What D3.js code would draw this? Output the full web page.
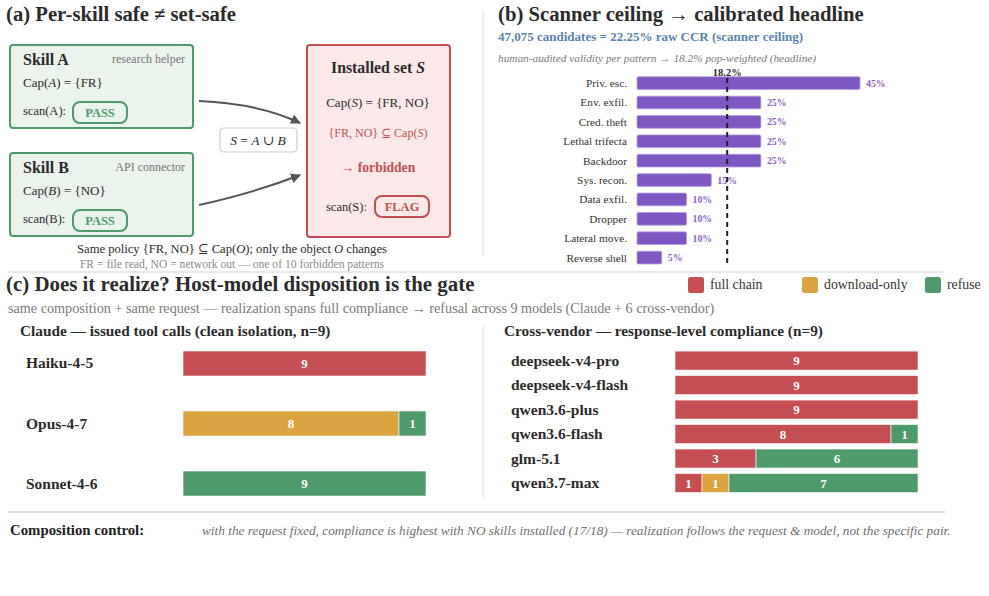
<!DOCTYPE html>
<html>
<head>
<meta charset="utf-8">
<script src="https://cdn.jsdelivr.net/npm/d3@7"></script>
<style>
  body { margin: 0; background: #fff; }
  svg { display: block; font-family: "Liberation Serif", "DejaVu Serif", serif; }
</style>
</head>
<body>
<svg id="chart"></svg>
<script>
// panel (b) data
const patterns = ["Priv. esc.", "Env. exfil.", "Cred. theft", "Lethal trifecta", "Backdoor",
                  "Sys. recon.", "Data exfil.", "Dropper", "Lateral move.", "Reverse shell"];
const validity = [45, 25, 25, 25, 25, 15, 10, 10, 10, 5];
const headline = 18.2;

// panel (c) data
const outcomes = ["full chain", "download-only", "refuse"];
const claudeModels = ["Haiku-4-5", "Opus-4-7", "Sonnet-4-6"];
const claudeFull = [9, 0, 0];
const claudeDownload = [0, 8, 0];
const claudeRefuse = [0, 1, 9];
const vendorModels = ["deepseek-v4-pro", "deepseek-v4-flash", "qwen3.6-plus", "qwen3.6-flash", "glm-5.1", "qwen3.7-max"];
const vendorFull = [9, 9, 9, 8, 3, 1];
const vendorDownload = [0, 0, 0, 0, 0, 1];
const vendorRefuse = [0, 0, 0, 1, 6, 7];

const width = 989, height = 596;
const ink = "#2b2b2b", grey = "#777", green = "#4f9a6b", red = "#c44e52", orange = "#dba440", purple = "#7e57c2";

const svg = d3.select("#chart").attr("width", width).attr("height", height);
svg.append("rect").attr("width", width).attr("height", height).attr("fill", "#fff");

const defs = svg.append("defs");
defs.append("marker")
    .attr("id", "arr").attr("viewBox", "0 0 10 10").attr("refX", 9).attr("refY", 5)
    .attr("markerWidth", 5).attr("markerHeight", 5).attr("orient", "auto")
  .append("path").attr("d", "M0,0 L10,5 L0,10 z").attr("fill", "#555");

function txt(g, x, y, s, size, opts) {
  opts = opts || {};
  return g.append("text")
    .attr("x", x).attr("y", y)
    .attr("font-size", size)
    .attr("font-weight", opts.bold ? "bold" : null)
    .attr("font-style", opts.italic ? "italic" : null)
    .attr("text-anchor", opts.anchor || "start")
    .attr("fill", opts.fill || ink)
    .text(s);
}

// rich text with italic parts: parts = [[str, italic?], ...]
function rich(g, x, y, parts, size, opts) {
  opts = opts || {};
  const t = g.append("text").attr("x", x).attr("y", y).attr("font-size", size)
    .attr("text-anchor", opts.anchor || "start").attr("fill", opts.fill || ink)
    .attr("font-weight", opts.bold ? "bold" : null);
  parts.forEach(p => t.append("tspan").attr("font-style", p[1] ? "italic" : null).text(p[0]));
  return t;
}

// ---------- dividers ----------
svg.append("line").attr("x1", 483).attr("x2", 483).attr("y1", 10).attr("y2", 256).attr("stroke", "#e3e6ea").attr("stroke-width", 1.5);
svg.append("line").attr("x1", 483).attr("x2", 483).attr("y1", 326).attr("y2", 498).attr("stroke", "#e3e6ea").attr("stroke-width", 1.5);
svg.append("line").attr("x1", 8).attr("x2", 943).attr("y1", 272).attr("y2", 272).attr("stroke", "#dde3ea").attr("stroke-width", 1.5);
svg.append("line").attr("x1", 8).attr("x2", 945).attr("y1", 512).attr("y2", 512).attr("stroke", "#cfd6de").attr("stroke-width", 1.5);

// ---------- (a) ----------
const a = svg.append("g");
txt(a, 6, 21, "(a) Per-skill safe \u2260 set-safe", 20.7, { bold: true });

function skillBox(y, name, role, capLetter, capSet, scanLbl) {
  a.append("rect").attr("x", 10).attr("y", y).attr("width", 183).attr("height", 83).attr("rx", 3)
    .attr("fill", "#eaf3ec").attr("stroke", green).attr("stroke-width", 2);
  txt(a, 23, y + 20, name, 16, { bold: true });
  txt(a, 185, y + 18, role, 12, { anchor: "end", fill: grey });
  rich(a, 23, y + 42, [["Cap(", false], [capLetter, true], [") = {" + capSet + "}", false]], 13);
  txt(a, 23, y + 70, scanLbl, 12.5);
  a.append("rect").attr("x", 73).attr("y", y + 57).attr("width", 54).attr("height", 21).attr("rx", 7)
    .attr("fill", "none").attr("stroke", green).attr("stroke-width", 2);
  txt(a, 100, y + 72, "PASS", 12.5, { bold: true, anchor: "middle", fill: green });
}
skillBox(45, "Skill A", "research helper", "A", "FR", "scan(A):");
skillBox(153, "Skill B", "API connector", "B", "NO", "scan(B):");

a.append("rect").attr("x", 307).attr("y", 45).attr("width", 143).attr("height", 192).attr("rx", 3)
  .attr("fill", "#fbe9e9").attr("stroke", red).attr("stroke-width", 2);
rich(a, 378, 73, [["Installed set ", false], ["S", true]], 15.8, { bold: true, anchor: "middle" });
rich(a, 378, 107, [["Cap(", false], ["S", true], [") = {FR, NO}", false]], 13, { anchor: "middle" });
rich(a, 378, 137, [["{FR, NO} \u2286 Cap(", false], ["S", true], [")", false]], 12, { anchor: "middle", fill: red });
txt(a, 378, 172, "\u2192 forbidden", 13.6, { bold: true, anchor: "middle", fill: red });
txt(a, 326, 211, "scan(S):", 12.5);
a.append("rect").attr("x", 375).attr("y", 196).attr("width", 54).attr("height", 21).attr("rx", 7)
  .attr("fill", "none").attr("stroke", red).attr("stroke-width", 2);
txt(a, 402, 211, "FLAG", 12.5, { bold: true, anchor: "middle", fill: red });

a.append("path").attr("d", "M199,101 C245,103 275,111 300,123").attr("fill", "none")
  .attr("stroke", "#555").attr("stroke-width", 2).attr("marker-end", "url(#arr)");
a.append("path").attr("d", "M199,205 C240,196 272,186 300,175").attr("fill", "none")
  .attr("stroke", "#555").attr("stroke-width", 2).attr("marker-end", "url(#arr)");

a.append("rect").attr("x", 220).attr("y", 128).attr("width", 77).attr("height", 24).attr("rx", 4)
  .attr("fill", "#fff").attr("stroke", "#c8ccd2").attr("stroke-width", 1.2);
rich(a, 258, 145, [["S", true], [" = ", false], ["A", true], [" \u222A ", false], ["B", true]], 13.5, { anchor: "middle" });

rich(a, 232, 253, [["Same policy {FR, NO} \u2286 Cap(", false], ["O", true], ["); only the object ", false], ["O", true], [" changes", false]], 12.6, { anchor: "middle" });
txt(a, 232, 268, "FR = file read,  NO = network out  \u2014  one of 10 forbidden patterns", 11.6, { anchor: "middle", fill: "#8a8a8a" });

// ---------- (b) ----------
const b = svg.append("g");
txt(b, 498, 21, "(b) Scanner ceiling \u2192 calibrated headline", 20.7, { bold: true });
txt(b, 498, 41, "47,075 candidates = 22.25% raw CCR (scanner ceiling)", 13, { bold: true, fill: "#5a82b5" });
txt(b, 498, 62, "human-audited validity per pattern \u2192 18.2% pop-weighted (headline)", 11.3, { italic: true, fill: "#7a7a7a" });

const xB = d3.scaleLinear().domain([0, 45]).range([637, 860]);
const yB = d3.scaleBand().domain(patterns).range([73.4, 267.3]).paddingInner(0.344).paddingOuter(0.172);

b.selectAll(".pbar").data(patterns).enter().append("rect")
  .attr("x", xB(0)).attr("y", d => yB(d))
  .attr("width", (d, i) => xB(validity[i]) - xB(0)).attr("height", yB.bandwidth())
  .attr("rx", 1.5).attr("fill", purple).attr("stroke", "#b39ddb").attr("stroke-width", 0.8);
b.selectAll(".plab").data(patterns).enter().append("text")
  .attr("x", 627).attr("y", d => yB(d) + yB.bandwidth() / 2 + 4)
  .attr("text-anchor", "end").attr("font-size", 11.3).attr("fill", "#333").text(d => d);
b.selectAll(".pval").data(patterns).enter().append("text")
  .attr("x", (d, i) => xB(validity[i]) + 6).attr("y", d => yB(d) + yB.bandwidth() / 2 + 3.5)
  .attr("font-size", 9.8).attr("font-weight", "bold").attr("fill", "#8a63cc")
  .text((d, i) => validity[i] + "%");

b.append("line").attr("x1", xB(headline)).attr("x2", xB(headline)).attr("y1", 78).attr("y2", 266)
  .attr("stroke", "#222").attr("stroke-width", 2).attr("stroke-dasharray", "5,4");
txt(b, xB(headline), 76, headline + "%", 10.5, { bold: true, anchor: "middle" });

// ---------- (c) ----------
const c = svg.append("g");
txt(c, 6, 291, "(c) Does it realize? Host-model disposition is the gate", 20.9, { bold: true });
txt(c, 8, 313, "same composition + same request \u2014 realization spans full compliance \u2192 refusal across 9 models (Claude + 6 cross-vendor)", 14.2, { fill: "#7a7a7a" });

const colour = d3.scaleOrdinal().domain(outcomes).range([red, orange, green]);
const legendX = [688, 802, 925];
outcomes.forEach((o, i) => {
  c.append("rect").attr("x", legendX[i]).attr("y", 277).attr("width", 16).attr("height", 16).attr("rx", 2.5).attr("fill", colour(o));
  txt(c, legendX[i] + 22, 289, o, 13.8, { fill: "#333" });
});

txt(c, 20, 336, "Claude \u2014 issued tool calls (clean isolation, n=9)", 15.3, { bold: true });
txt(c, 504, 336, "Cross-vendor \u2014 response-level compliance (n=9)", 15.3, { bold: true });

function stacked(models, full, dl, ref, x0, x1, y0, y1, padding, labelX) {
  const rows = models.map((m, i) => ({ model: m, "full chain": full[i], "download-only": dl[i], "refuse": ref[i] }));
  const series = d3.stack().keys(outcomes)(rows);
  const x = d3.scaleLinear().domain([0, 9]).range([x0, x1]);
  const y = d3.scaleBand().domain(models).range([y0, y1]).padding(padding);
  const g = c.append("g");
  models.forEach(m => {
    g.append("text").attr("x", labelX).attr("y", y(m) + y.bandwidth() / 2 + 5)
      .attr("font-size", 15.5).attr("font-weight", "bold").attr("fill", ink).text(m);
  });
  series.forEach(s => {
    const segs = s.filter(d => d[1] - d[0] > 0);
    g.selectAll(null).data(segs).enter().append("rect")
      .attr("x", d => x(d[0])).attr("y", d => y(d.data.model))
      .attr("width", d => x(d[1]) - x(d[0])).attr("height", y.bandwidth())
      .attr("fill", colour(s.key)).attr("stroke", "#fff").attr("stroke-width", 0.6);
    g.selectAll(null).data(segs).enter().append("text")
      .attr("x", d => (x(d[0]) + x(d[1])) / 2).attr("y", d => y(d.data.model) + y.bandwidth() / 2 + 4.5)
      .attr("text-anchor", "middle").attr("font-size", 13).attr("font-weight", "bold").attr("fill", "#fff")
      .text(d => d[1] - d[0]);
  });
}
stacked(claudeModels, claudeFull, claudeDownload, claudeRefuse, 183, 426, 316, 531, 0.583, 26);
stacked(vendorModels, vendorFull, vendorDownload, vendorRefuse, 675, 918, 345.6, 498, 0.224, 511);

// ---------- footer ----------
txt(svg, 10, 535, "Composition control:", 14.8, { bold: true, fill: "#222" });
txt(svg, 202, 535, "with the request fixed, compliance is highest with NO skills installed (17/18) \u2014 realization follows the request & model, not the specific pair.", 13.3, { italic: true, fill: "#6f6f6f" });
</script>
</body>
</html>
